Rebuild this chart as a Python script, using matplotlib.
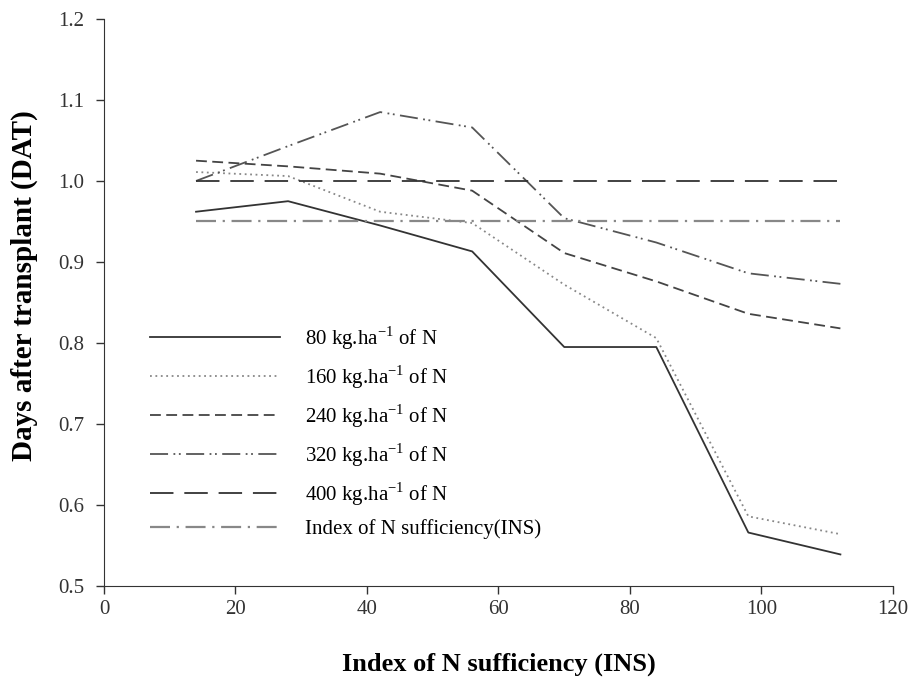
import matplotlib.pyplot as plt

plt.rcParams["font.family"] = ["Liberation Serif", "DejaVu Serif"]

# INS sampling points and relative values per N dose
ins = [14, 28, 42, 56, 70, 84, 98, 112]
n80 = [0.962, 0.975, 0.945, 0.913, 0.795, 0.795, 0.566, 0.539]
n160 = [1.011, 1.006, 0.962, 0.948, 0.872, 0.806, 0.586, 0.564]
n240 = [1.025, 1.018, 1.009, 0.988, 0.911, 0.876, 0.836, 0.818]
n320 = [1.000, 1.043, 1.085, 1.066, 0.954, 0.924, 0.886, 0.873]
n400 = [1.0] * 8
ins_ref = [0.95] * 8

labels = [
    r"80 kg.ha$^{\mathregular{-1}}$ of N",
    r"160 kg.ha$^{\mathregular{-1}}$ of N",
    r"240 kg.ha$^{\mathregular{-1}}$ of N",
    r"320 kg.ha$^{\mathregular{-1}}$ of N",
    r"400 kg.ha$^{\mathregular{-1}}$ of N",
    "Index of N sufficiency(INS)",
]

fig = plt.figure(figsize=(9.09, 6.8), dpi=100)
ax = fig.add_axes([0.1144, 0.1382, 0.868, 0.834])

ax.plot(ins, n80, color="#333333", lw=1.3, ls="-", label=labels[0])
ax.plot(ins, n160, color="#888888", lw=1.3, ls=(0, (1, 2)), label=labels[1])
ax.plot(ins, n240, color="#444444", lw=1.3, ls=(0, (6, 3)), label=labels[2])
ax.plot(ins, n320, color="#555555", lw=1.3, ls=(0, (10, 3, 1, 2, 1, 3)), label=labels[3])
ax.plot(ins, n400, color="#333333", lw=1.3, ls=(0, (13, 6)), label=labels[4])
ax.plot(ins, ins_ref, color="#888888", lw=1.6, ls=(0, (9, 3, 1, 3)), label=labels[5])

ax.set_xlim(0, 120)
ax.set_ylim(0.5, 1.2)
ax.set_xticks(range(0, 121, 20))
ax.set_yticks([0.5, 0.6, 0.7, 0.8, 0.9, 1.0, 1.1, 1.2])
ax.set_yticklabels(["0.5", "0.6", "0.7", "0.8", "0.9", "1.0", "1.1", "1.2"])
ax.tick_params(direction="out", length=6, width=1, labelsize=15, colors="#333333")
ax.tick_params(axis="y", pad=8)
ax.tick_params(axis="x", pad=4)
for s in ["top", "right"]:
    ax.spines[s].set_visible(False)
for s in ["left", "bottom"]:
    ax.spines[s].set_color("#333333")

ax.set_xlabel("Index of N sufficiency (INS)", fontsize=19, fontweight="bold", labelpad=24)
ax.set_ylabel("Days after transplant (DAT)", fontsize=21, fontweight="bold")
ax.yaxis.set_label_coords(-0.084, 0.53)

ax.legend(loc="upper left", bbox_to_anchor=(0.035, 0.495), frameon=False, fontsize=15,
          handlelength=6.2, handletextpad=1.2, labelspacing=0.55)

plt.savefig("out.png")
